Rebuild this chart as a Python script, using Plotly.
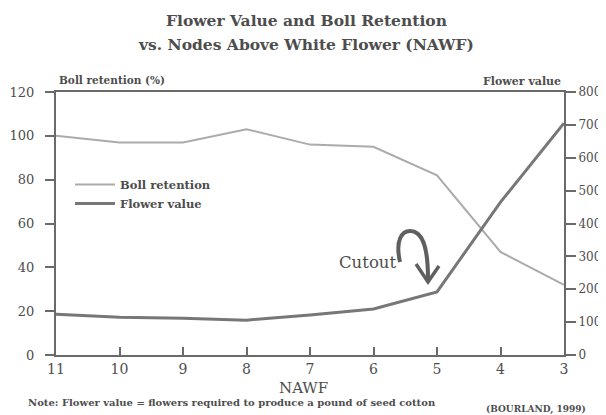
import plotly.graph_objects as go

# ---- data ----
nawf = [11, 10, 9, 8, 7, 6, 5, 4, 3]
boll_retention = [100, 97, 97, 103, 96, 95, 82, 47, 32]
flower_value = [124, 115, 112, 106, 122, 140, 192, 465, 705]
x_ticks = [11, 10, 9, 8, 7, 6, 5, 4, 3]
left_ticks = [0, 20, 40, 60, 80, 100, 120]
right_ticks = [0, 100, 200, 300, 400, 500, 600, 700, 800]

OFF = 8  # page body margin
W, H = 606 - OFF, 415 - OFF
L, R, T, B = 56, 564, 92, 355  # plot area in reference pixels
SERIF = "DejaVu Serif, Liberation Serif, serif"
TXT = "#4d4d4d"
AX = "#6a6a6a"


def px(x, y):
    return (x - L) / (R - L), (B - y) / (B - T)


fig = go.Figure()
fig.add_trace(go.Scatter(x=nawf, y=boll_retention, mode="lines", name="Boll retention",
                         line=dict(color="#ababab", width=2)))
fig.add_trace(go.Scatter(x=nawf, y=flower_value, mode="lines", name="Flower value",
                         yaxis="y2", line=dict(color="#777777", width=3)))

fig.update_layout(
    width=W, height=H, autosize=False,
    margin=dict(l=L - OFF, r=606 - R, t=T - OFF, b=415 - B, pad=0, autoexpand=False),
    paper_bgcolor="white", plot_bgcolor="white",
    font=dict(family=SERIF, color=TXT, size=13),
    showlegend=True,
    legend=dict(x=px(70, 0)[0], y=px(0, 170)[1], xanchor="left", yanchor="top",
                bgcolor="rgba(0,0,0,0)",
                font=dict(size=11.5, family=SERIF, color=TXT, weight="bold"),
                tracegroupgap=0, itemwidth=40),
    xaxis=dict(range=[11, 3], tickvals=x_ticks, ticktext=[str(v) for v in x_ticks],
               ticks="inside", ticklen=8, tickwidth=2, tickcolor=AX,
               showline=True, linecolor=AX, linewidth=2, mirror=True, automargin=False,
               showgrid=False, zeroline=False, tickfont=dict(size=14)),
    yaxis=dict(range=[0, 120], tickvals=left_ticks, ticks="outside", ticklen=9,
               tickwidth=2, tickcolor=AX, showline=True, linecolor=AX, linewidth=2,
               automargin=False,
               showgrid=False, zeroline=False, tickfont=dict(size=13), ticklabelstandoff=8),
    yaxis2=dict(range=[0, 800], tickvals=right_ticks, overlaying="y", side="right",
                ticks="outside", ticklen=10, tickwidth=2, tickcolor=AX,
                showline=True, linecolor=AX, linewidth=2, automargin=False,
                showgrid=False, zeroline=False, tickfont=dict(size=12)),
)

ann = []


def text(x, y, s, size, xanchor="center", bold=False):
    xp, yp = px(x, y)
    ann.append(dict(x=xp, y=yp, xref="paper", yref="paper", text=(f"<b>{s}</b>" if bold else s),
                    showarrow=False, xanchor=xanchor, yanchor="middle",
                    font=dict(size=size, family=SERIF, color=TXT)))


text(306, 20, "Flower Value and Boll Retention", 15.5, bold=True)
text(306, 45, "vs. Nodes Above White Flower (NAWF)", 15.5, bold=True)
text(57, 80, "Boll retention (%)", 10.5, xanchor="left", bold=True)
text(563, 81, "Flower value", 11, xanchor="right", bold=True)
text(303, 388, "NAWF", 15)
text(26, 402, "Note: Flower value = flowers required to produce a pound of seed cotton", 10,
     xanchor="left", bold=True)
text(588, 409, "(BOURLAND, 1999)", 9, xanchor="right", bold=True)
text(398, 262, "Cutout", 16.5, xanchor="right")
fig.update_layout(annotations=ann)


def path(points_cmd):
    out = []
    for tok in points_cmd:
        if isinstance(tok, str):
            out.append(tok)
        else:
            a, b = px(*tok)
            out.append(f"{a:.4f},{b:.4f}")
    return " ".join(out)


curve = path(["M", (400, 262), "C", (395, 240), (402, 231), (410, 231),
              "C", (422, 231), (428, 245), (428, 279)])
head = path(["M", (416, 264), "L", (428, 282), "L", (439, 266)])
fig.add_shape(type="path", path=curve, xref="paper", yref="paper",
              line=dict(color="#5f5f5f", width=4))
fig.add_shape(type="path", path=head, xref="paper", yref="paper",
              line=dict(color="#5f5f5f", width=3.5))

fig.write_html("out.html")
